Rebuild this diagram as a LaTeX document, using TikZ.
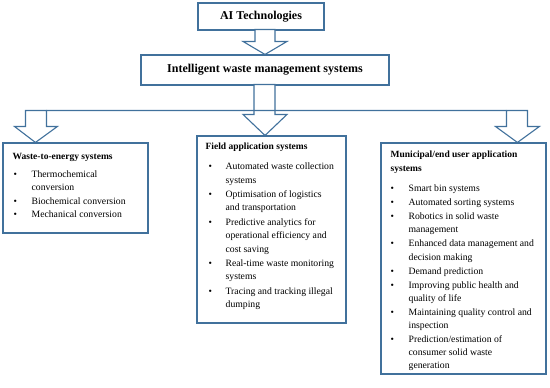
\documentclass[tikz,border=0pt]{standalone}
\usepackage{fontspec}
\setmainfont{Liberation Serif}
\usetikzlibrary{calc}
\definecolor{edgeblue}{HTML}{41719C}
\tikzset{
  frame/.style={draw=edgeblue, line width=1.1bp, fill=white, inner sep=0pt},
  blockarrow/.style={draw=edgeblue, line width=1.1bp, fill=white, line join=miter},
  headfont/.style={font=\fontsize{12bp}{14bp}\selectfont\bfseries},
  listtext/.style={anchor=north west, inner sep=0pt, align=left},
}
\newcommand{\boxhead}[1]{\multicolumn{2}{@{}l@{}}{\fontsize{9.5bp}{13bp}\selectfont\bfseries #1}}
\newcommand{\blt}[1]{\hspace*{#1}\textbullet}
\begin{document}
\begin{tikzpicture}[x=1bp,y=-1bp]
\useasboundingbox (0,0) rectangle (550,387);
% boxes
\node[frame, minimum width=126bp, minimum height=27bp, headfont] (ai) at (261,16.5) {AI Technologies};
\node[frame, minimum width=248bp, minimum height=30bp, headfont] (iw) at (265,70) {Intelligent waste management systems};
\node[frame, minimum width=145bp, minimum height=90bp] (wte) at (75.5,188) {};
\node[frame, minimum width=149bp, minimum height=187bp] (fa) at (271.5,229.5) {};
\node[frame, minimum width=165bp, minimum height=231bp] (mu) at (463.5,258.5) {};
% arrows
\draw[blockarrow] (iw.north) -- ++(-22,-13) -- ++(12,0) -- ++(0,-12) -- ++(20,0) -- ++(0,12) -- ++(12,0) -- cycle;
\draw[blockarrow] (iw.south |- fa.north) -- ++(-22,-21) -- ++(11,0) -- ++(0,-30) -- ++(21,0) -- ++(0,30) -- ++(12,0) -- cycle;
\draw[blockarrow] ([xshift=33bp]wte.north west) -- ++(-21,-16) -- ++(11,0) -- ++(0,-16) -- ++(21,0) coordinate (hl) -- ++(0,16) -- ++(11,0) -- cycle;
\draw[blockarrow] ([xshift=137bp]mu.north west) -- ++(-22,-16) -- ++(11,0) -- ++(0,-16) coordinate (hr) -- ++(21,0) -- ++(0,16) -- ++(12,0) -- cycle;
\draw[blockarrow] (hl) -- (hr);
% texts
\node[listtext, font=\fontsize{9.7bp}{13.3bp}\selectfont] (wtetext) at ($(wte.north west)+(10,7.7)$) {%
\begin{tabular}{@{}p{19bp}@{}l@{}}
\boxhead{Waste-to-energy systems}\\[4.7bp]
\blt{1bp} & Thermochemical\\
 & conversion\\
\blt{1bp} & Biochemical conversion\\
\blt{1bp} & Mechanical conversion
\end{tabular}};
\node[listtext, font=\fontsize{9.7bp}{13.4bp}\selectfont] (fatext) at ($(fa.north west)+(9,4.6)$) {%
\begin{tabular}{@{}p{20bp}@{}l@{}}
\boxhead{Field application systems}\\[6.6bp]
\blt{3bp} & Automated waste collection\\
 & systems\\[1bp]
\blt{3bp} & Optimisation of logistics\\
 & and transportation\\[1bp]
\blt{3bp} & Predictive analytics for\\
 & operational efficiency and\\
 & cost saving\\[1bp]
\blt{3bp} & Real-time waste monitoring\\
 & systems\\[1bp]
\blt{3bp} & Tracing and tracking illegal\\
 & dumping
\end{tabular}};
\node[listtext, font=\fontsize{9.7bp}{13.2bp}\selectfont] (mutext) at ($(mu.north west)+(10,5.8)$) {%
\begin{tabular}{@{}p{18bp}@{}l@{}}
\boxhead{Municipal/end user application}\\[0.8bp]
\boxhead{systems}\\[6.8bp]
\blt{0bp} & Smart bin systems\\[0.8bp]
\blt{0bp} & Automated sorting systems\\[0.8bp]
\blt{0bp} & Robotics in solid waste\\
 & management\\[0.8bp]
\blt{0bp} & Enhanced data management and\\
 & decision making\\[0.8bp]
\blt{0bp} & Demand prediction\\[0.8bp]
\blt{0bp} & Improving public health and\\
 & quality of life\\[0.8bp]
\blt{0bp} & Maintaining quality control and\\
 & inspection\\[0.8bp]
\blt{0bp} & Prediction/estimation of\\
 & consumer solid waste\\
 & generation
\end{tabular}};
\end{tikzpicture}
\end{document}
